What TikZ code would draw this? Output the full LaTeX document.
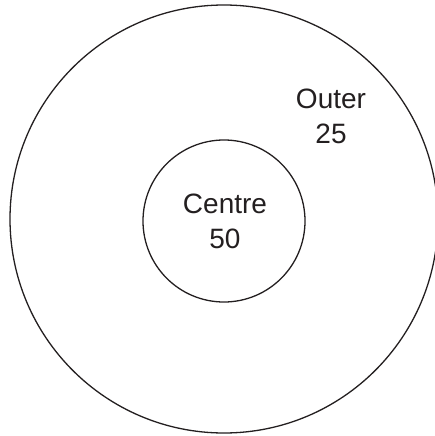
\documentclass[tikz,border=0pt]{standalone}
\usepackage{fontspec}
\setmainfont{Liberation Sans}
\definecolor{ink}{HTML}{231F20}
\begin{document}
\begin{tikzpicture}[x=1pt,y=-1pt,
  ring/.style={draw=ink,line width=1.3pt},
  lbl/.style={text=ink,align=center,inner sep=0pt,font=\fontsize{28}{35}\selectfont}]
\useasboundingbox (0,0) rectangle (435,436);
\begin{scope}
\clip (0,0) rectangle (435,436);
\draw[ring] (224,219) circle[radius=214];
\end{scope}
\draw[ring] (224,221) circle[radius=81];
\node[lbl] (outer) at (331,116) {Outer\\25};
\node[lbl] (centre) at (225,221) {Centre\\50};
\end{tikzpicture}
\end{document}
